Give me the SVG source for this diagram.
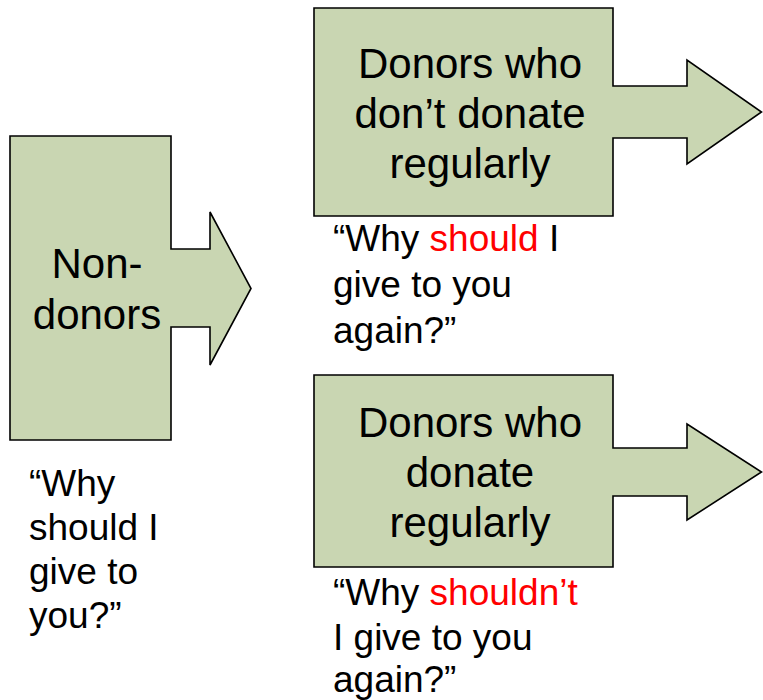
<svg xmlns="http://www.w3.org/2000/svg" width="763" height="700" viewBox="0 0 763 700">
<style>
.shape{fill:#C9D6B2;stroke:#000;stroke-width:1.6;stroke-linejoin:miter}
.big{font-family:"Liberation Sans",Arial,sans-serif;font-size:42px;fill:#000;text-anchor:middle}
.small{font-family:"Liberation Sans",Arial,sans-serif;font-size:37px;fill:#000}
.red{fill:#FF0000}
</style>
<rect width="763" height="700" fill="#fff"/>
<g id="non-donors">
<path class="shape" d="M10,136 H171 V249 H210 V212 L251,288.5 L210,365 V327 H171 V440 H10 Z"/>
<text class="big" x="97" y="278">Non-</text>
<text class="big" x="97" y="329">donors</text>
</g>
<g id="irregular-donors">
<path class="shape" d="M314,8 H613 V86 H687 V60 L761.5,112 L687,164 V138 H613 V216 H314 Z"/>
<text class="big" x="470" y="78">Donors who</text>
<text class="big" x="470" y="128">don’t donate</text>
<text class="big" x="470" y="178">regularly</text>
</g>
<g id="regular-donors">
<path class="shape" d="M314,375 H613 V448 H687 V424 L761.5,472 L687,520 V496 H613 V567 H314 Z"/>
<text class="big" x="470" y="437">Donors who</text>
<text class="big" x="470" y="487">donate</text>
<text class="big" x="470" y="537">regularly</text>
</g>
<g id="quote-non-donors">
<text class="small" x="29" y="496">“Why</text>
<text class="small" x="29" y="540">should I</text>
<text class="small" x="29" y="584">give to</text>
<text class="small" x="29" y="628">you?”</text>
</g>
<g id="quote-irregular">
<text class="small" x="333" y="251">“Why <tspan class="red">should</tspan> I</text>
<text class="small" x="333" y="297">give to you</text>
<text class="small" x="333" y="343">again?”</text>
</g>
<g id="quote-regular">
<text class="small" x="333" y="605">“Why <tspan class="red">shouldn’t</tspan></text>
<text class="small" x="333" y="650">I give to you</text>
<text class="small" x="333" y="692">again?”</text>
</g>
<g id="connectors"/>
</svg>
